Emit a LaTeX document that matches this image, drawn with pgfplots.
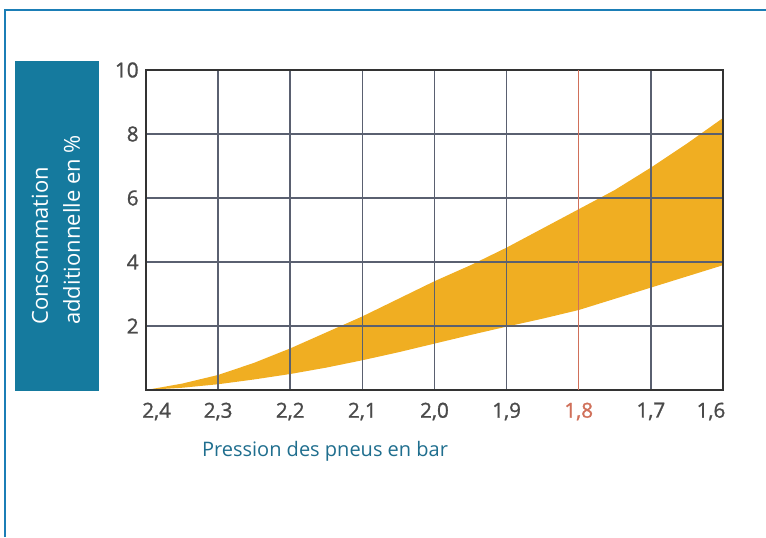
\documentclass[border=0pt]{standalone}
\usepackage{pgfplots}
\pgfplotsset{compat=1.18}
\usepackage{fontspec}
\setmainfont{Open Sans}
\newfontfamily\tickfont[FakeBold=1.2]{Open Sans}
\definecolor{band}{HTML}{F0AE22}
\definecolor{boxblue}{HTML}{157A9E}
\definecolor{framblue}{HTML}{1B7EB6}
\definecolor{gridc}{HTML}{5A6070}
\definecolor{tickc}{HTML}{4A4A4A}
\definecolor{redl}{HTML}{D0705A}
\definecolor{xlab}{HTML}{1F6E8E}
\begin{document}
\begin{tikzpicture}
\path[use as bounding box] (0,0) rectangle (574.5pt,402.75pt);
\draw[framblue, line width=1.5pt] (3.75pt,0) -- (3.75pt,395.25pt) -- (574.5pt,395.25pt);
\fill[boxblue] (11.25pt,109.5pt) rectangle (74.25pt,357pt);
\node[rotate=90, anchor=west, align=left, text=white, font=\fontsize{16.5pt}{24pt}\selectfont, inner sep=0pt] at (42pt,159pt) {Consommation\\additionnelle en \%};
\node[text=xlab, font=\fontsize{15pt}{17pt}\selectfont, anchor=center] at (243.75pt,64.5pt) {Pression des pneus en bar};
\begin{axis}[
  at={(109.5pt,110.25pt)}, anchor=south west,
  width=432.75pt, height=240pt, scale only axis,
  x dir=reverse,
  xmin=1.6, xmax=2.4, ymin=0, ymax=10,
  xtick={1.6,1.7,1.9,2.0,2.1,2.2,2.3,2.4},
  xticklabels={{1{,}6\hspace*{18pt}},{1{,}7},{1{,}9},{2{,}0},{2{,}1},{2{,}2},{2{,}3},{\hspace*{16pt}2{,}4}},
  extra x ticks={1.8},
  extra x tick labels={1{,}8},
  extra x tick style={grid style={redl, line width=1pt}, xticklabel style={text=redl}},
  ytick={2,4,6,8,10},
  grid=major,
  grid style={gridc, line width=1.3pt},
  major tick length=0pt,
  axis line style={draw=black!80, line width=1.5pt},
  axis on top,
  /pgf/number format/assume math mode=true,
  tick label style={text=tickc, font=\tickfont\fontsize{15.5pt}{17pt}\selectfont},
  xticklabel style={yshift=-6pt},
  yticklabel style={xshift=-2pt},
]
\addplot[fill=band, draw=none] coordinates {
(2.4,0) (2.35,0.2) (2.3,0.47) (2.25,0.85) (2.2,1.3) (2.15,1.8) (2.1,2.3) (2.05,2.85) (2.0,3.4) (1.95,3.9) (1.9,4.45) (1.85,5.05) (1.8,5.65) (1.75,6.25) (1.7,6.95) (1.65,7.7) (1.6,8.5)
(1.6,3.9) (1.65,3.55) (1.7,3.2) (1.75,2.85) (1.8,2.5) (1.85,2.23) (1.9,1.98) (1.95,1.72) (2.0,1.45) (2.05,1.18) (2.1,0.93) (2.15,0.7) (2.2,0.5) (2.25,0.33) (2.3,0.18) (2.35,0.07) (2.4,0)} -- cycle;
\end{axis}
\end{tikzpicture}
\end{document}
